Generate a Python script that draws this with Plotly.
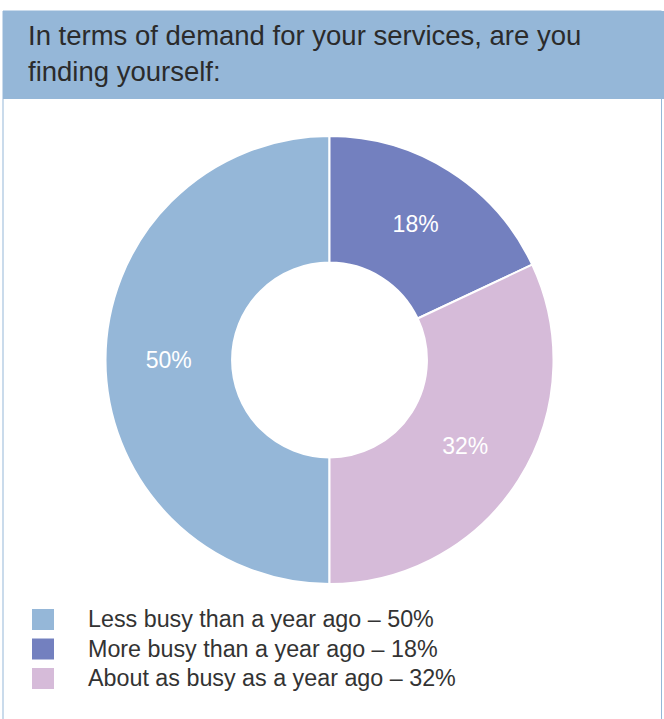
import plotly.graph_objects as go

# Survey data
labels = ["Less busy than a year ago", "More busy than a year ago", "About as busy as a year ago"]
values = [50, 18, 32]
colors = ["#95b7d8", "#7380bf", "#d6bbd9"]
title_lines = ["In terms of demand for your services, are you", "finding yourself:"]

W, H = 664, 719


def px(x):
    return x / W


def py(y):
    return 1 - y / H


fig = go.Figure()

fig.add_trace(go.Pie(
    labels=labels,
    values=values,
    marker=dict(colors=colors, line=dict(color="white", width=2)),
    hole=0.435,
    sort=False,
    direction="clockwise",
    rotation=180,
    texttemplate="%{value}%",
    textposition="inside",
    insidetextorientation="horizontal",
    textfont=dict(color="white", size=23, family="Liberation Sans"),
    domain=dict(x=[px(329.5 - 224), px(329.5 + 224)], y=[py(584), py(136)]),
    showlegend=False,
    hoverinfo="label+percent",
))

shapes = [
    # outer frame (open at the bottom edge of the page)
    dict(type="rect", xref="paper", yref="paper", x0=px(3), x1=px(661.5), y0=py(730), y1=py(11),
         line=dict(color="#95b7d8", width=1), fillcolor="rgba(0,0,0,0)", layer="below"),
    # header band
    dict(type="rect", xref="paper", yref="paper", x0=px(3), x1=1, y0=py(99), y1=py(11),
         line=dict(width=0), fillcolor="#95b7d8", layer="below"),
]

annotations = []
for i, line in enumerate(title_lines):
    annotations.append(dict(
        text=line, xref="paper", yref="paper", x=px(26), y=py(35 + 36 * i),
        xanchor="left", yanchor="middle", showarrow=False,
        font=dict(size=27.5, color="#2b2b2b", family="Liberation Sans"),
    ))

# legend rows
for i, (lab, val, col) in enumerate(zip(labels, values, colors)):
    yc = 619 + 29.5 * i
    shapes.append(dict(type="rect", xref="paper", yref="paper",
                       x0=px(32), x1=px(54), y0=py(yc + 11), y1=py(yc - 10),
                       line=dict(width=0), fillcolor=col))
    annotations.append(dict(
        text=f"{lab} – {val}%", xref="paper", yref="paper", x=px(86), y=py(yc),
        xanchor="left", yanchor="middle", showarrow=False,
        font=dict(size=23.3, color="#333333", family="Liberation Sans"),
    ))

fig.update_layout(
    width=W, height=H,
    margin=dict(l=0, r=0, t=0, b=0),
    paper_bgcolor="white",
    plot_bgcolor="white",
    shapes=shapes,
    annotations=annotations,
)

fig.write_html("out.html")
